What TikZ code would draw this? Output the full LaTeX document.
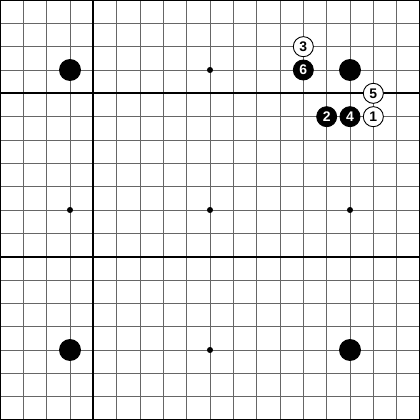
\documentclass[tikz,border=0pt]{standalone}
\usepackage{fontspec}
\setmainfont{Liberation Sans}
\begin{document}
\begin{tikzpicture}[x=1cm,y=-1cm,
  gridline/.style={draw=black!60,line width=1pt},
  heavyline/.style={draw=black,line width=2.4pt},
  bigstone/.style={circle,fill=black,inner sep=0pt,minimum size=0.94cm},
  hoshi/.style={circle,fill=black,inner sep=0pt,minimum size=0.26cm},
  bstone/.style={circle,fill=black,draw=black,line width=1pt,inner sep=0pt,minimum size=0.86cm,text=white,font=\fontsize{17}{17}\selectfont\bfseries},
  wstone/.style={circle,fill=white,draw=black,line width=1.1pt,inner sep=0pt,minimum size=0.86cm,text=black,font=\fontsize{17}{17}\selectfont\bfseries}]
\useasboundingbox (0,0) rectangle (18,18);
\fill[white] (0,0) rectangle (18,18);
\foreach \i in {1,...,17} {
  \draw[gridline] (\i,0) -- (\i,18);
  \draw[gridline] (0,\i) -- (18,\i);
}
\draw[heavyline] (4,0) -- (4,18);
\draw[heavyline] (0,4) -- (18,4);
\draw[heavyline] (0,11) -- (18,11);
\draw[heavyline] (0,0) rectangle (18,18);
% star points
\node[hoshi] (h1) at (9,3) {};
\node[hoshi] (h2) at (3,9) {};
\node[hoshi] (h3) at (9,9) {};
\node[hoshi] (h4) at (15,9) {};
\node[hoshi] (h5) at (9,15) {};
% corner stones
\node[bigstone] (s1) at (3,3) {};
\node[bigstone] (s2) at (15,3) {};
\node[bigstone] (s3) at (3,15) {};
\node[bigstone] (s4) at (15,15) {};
% numbered moves
\node[wstone] (m1) at (16,5) {1};
\node[bstone] (m2) at (14,5) {2};
\node[wstone] (m3) at (13,2) {3};
\node[bstone] (m4) at (15,5) {4};
\node[wstone] (m5) at (16,4) {5};
\node[bstone] (m6) at (13,3) {6};
\end{tikzpicture}
\end{document}
